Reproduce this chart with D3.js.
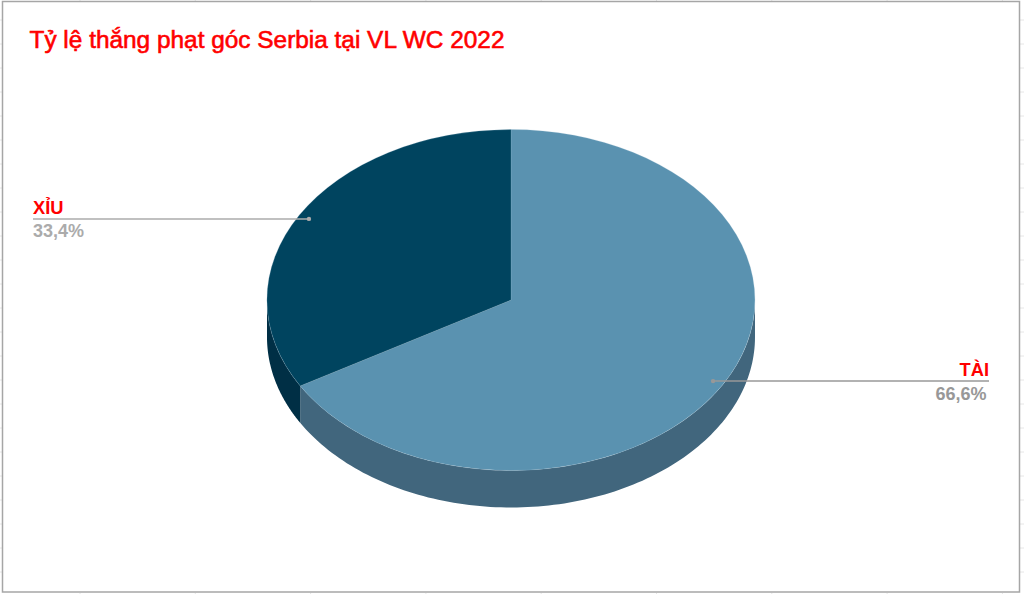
<!DOCTYPE html>
<html>
<head>
<meta charset="utf-8">
<script src="https://cdn.jsdelivr.net/npm/d3@7"></script>
<style>
  html, body { margin: 0; padding: 0; background: #fff; overflow: hidden; }
  text { font-family: "Liberation Sans", Arial, sans-serif; }
</style>
</head>
<body>
<div class="chart"></div>
<script>
var titleText = "Tỷ lệ thắng phạt góc Serbia tại VL WC 2022";
var categories = ["TÀI", "XỈU"];
var values = [66.6, 33.4];
var valueLabels = ["66,6%", "33,4%"];
var topColors = ["#5a92b0", "#00445f"];
var sideColors = ["#41667d", "#002f45"];
var leaderColors = ["#989898", "#ababab"];

var width = 1024, height = 594;
var cx = 511, cy = 300, rx = 244, ry = 170.5, depth = 37;

var svg = d3.select(".chart").append("svg")
    .attr("width", width)
    .attr("height", height)
    .style("display", "block");

// faint sheet gridlines showing around the chart frame
var sheet = svg.append("g").attr("stroke", "#e6e6e6").attr("stroke-width", 1);
sheet.selectAll("line.t").data(d3.range(80, 1024, 115.3)).enter().append("line")
    .attr("x1", function(d) { return d; }).attr("x2", function(d) { return d; })
    .attr("y1", 0).attr("y2", 1);
sheet.selectAll("line.b").data(d3.range(80, 1024, 115.3)).enter().append("line")
    .attr("x1", function(d) { return d; }).attr("x2", function(d) { return d; })
    .attr("y1", 593).attr("y2", 594);
sheet.selectAll("line.l").data(d3.range(20, 594, 24)).enter().append("line")
    .attr("x1", 0).attr("x2", 2)
    .attr("y1", function(d) { return d; }).attr("y2", function(d) { return d; });
sheet.selectAll("line.r").data(d3.range(20, 594, 24)).enter().append("line")
    .attr("x1", 1020).attr("x2", 1024)
    .attr("y1", function(d) { return d; }).attr("y2", function(d) { return d; });

// chart frame
svg.append("rect")
    .attr("x", 2.5).attr("y", 1.5)
    .attr("width", 1017).attr("height", 590.5)
    .attr("fill", "#fff")
    .attr("stroke", "#a6a6a6")
    .attr("stroke-width", 1.5);

svg.append("text")
    .attr("x", 29.5).attr("y", 48)
    .attr("fill", "#ff0000")
    .attr("stroke", "#ff0000")
    .attr("stroke-width", 0.6)
    .style("font-size", "24.4px")
    .text(titleText);

var pie = d3.pie().sort(null).value(function(d) { return d; });
var arcs = pie(values);

// angle is clockwise from the top of the ellipse
function px(a, r) { return cx + rx * r * Math.sin(a); }
function py(a, r) { return cy - ry * r * Math.cos(a); }

// outer wall of the disc, front half only
var wall = d3.line().x(function(d) { return d[0]; }).y(function(d) { return d[1]; });
var frontStart = Math.PI / 2, frontEnd = Math.PI * 1.5;

var walls = svg.append("g");
arcs.forEach(function(d, i) {
  var a0 = Math.max(d.startAngle, frontStart), a1 = Math.min(d.endAngle, frontEnd);
  if (a1 <= a0) return;
  var steps = d3.range(0, 1.0001, 1 / 120).map(function(t) { return a0 + (a1 - a0) * t; });
  var upper = steps.map(function(a) { return [px(a, 1), py(a, 1)]; });
  var lower = steps.slice().reverse().map(function(a) { return [px(a, 1), py(a, 1) + depth]; });
  walls.append("path")
      .attr("d", wall(upper.concat(lower)) + "Z")
      .attr("fill", sideColors[i]);
});

// top face: a unit d3 arc squashed into the ellipse
var arc = d3.arc().innerRadius(0).outerRadius(1);
svg.append("g")
    .attr("transform", "translate(" + cx + "," + cy + ") scale(" + rx + "," + ry + ")")
  .selectAll("path")
    .data(arcs)
  .enter().append("path")
    .attr("d", arc)
    .attr("fill", function(d, i) { return topColors[i]; })
    .attr("stroke", "#9fc0d2")
    .attr("stroke-opacity", 0.35)
    .attr("stroke-width", 0.6)
    .attr("vector-effect", "non-scaling-stroke");

// leader lines and labels
var labels = svg.append("g");
arcs.forEach(function(d, i) {
  var mid = (d.startAngle + d.endAngle) / 2;
  var x0 = px(mid, 0.955), y0 = py(mid, 0.955);
  var right = x0 > cx;
  var x1 = right ? 989 : 33;
  labels.append("line")
      .attr("x1", x0).attr("y1", y0).attr("x2", x1).attr("y2", y0)
      .attr("stroke", leaderColors[i])
      .attr("stroke-width", 1.5);
  labels.append("circle")
      .attr("cx", x0).attr("cy", y0).attr("r", 2.2)
      .attr("fill", leaderColors[i]);
  labels.append("text")
      .attr("x", x1).attr("y", y0 - 5)
      .attr("text-anchor", right ? "end" : "start")
      .attr("fill", "#ff0000")
      .style("font-size", "18.3px")
      .style("font-weight", "bold")
      .text(categories[i]);
  labels.append("text")
      .attr("x", right ? x1 - 2.5 : x1).attr("y", y0 + 18.5)
      .attr("text-anchor", right ? "end" : "start")
      .attr("fill", leaderColors[i])
      .style("font-size", "18px")
      .style("font-weight", "bold")
      .text(valueLabels[i]);
});
</script>
</body>
</html>
